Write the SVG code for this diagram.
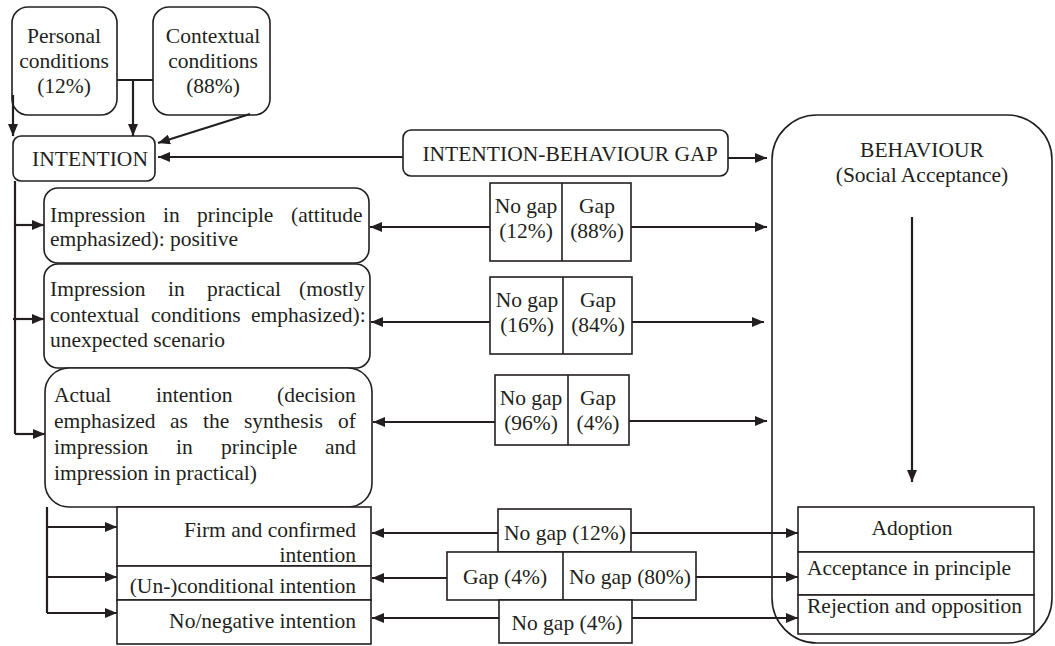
<svg xmlns="http://www.w3.org/2000/svg" width="1055" height="646" viewBox="0 0 1055 646" font-family="'Liberation Serif', 'Times New Roman', serif">
<defs>
<style>
text{font-family:'Liberation Serif','Times New Roman',serif;font-size:21.5px;fill:#231f20}
.c{text-anchor:middle}
.e{text-anchor:end}
.box{fill:#fff;stroke:#231f20;stroke-width:1.6}
.ln{fill:none;stroke:#231f20;stroke-width:2.2}
.arr{fill:none;stroke:#231f20;stroke-width:2.2;marker-end:url(#ah)}
</style>
<marker id="ah" viewBox="0 0 12 10" refX="12" refY="5" markerWidth="12" markerHeight="10" markerUnits="userSpaceOnUse" orient="auto"><path d="M0,0 L12,5 L0,10 z" fill="#231f20"/></marker>
</defs>
<rect width="1055" height="646" fill="#fff"/>

<g id="behaviour">
<rect class="box" x="772" y="115" width="280" height="528" rx="45"/>
<text class="c" x="922" y="157">BEHAVIOUR</text>
<text class="c" x="922" y="182">(Social Acceptance)</text>
</g>

<g id="personal">
<rect class="box" x="12" y="7" width="105" height="108" rx="16"/>
<text class="c" x="64" y="43">Personal</text>
<text class="c" x="64" y="68">conditions</text>
<text class="c" x="64" y="93">(12%)</text>
</g>
<g id="contextual">
<rect class="box" x="153" y="7" width="117" height="108" rx="16"/>
<text class="c" x="213" y="43">Contextual</text>
<text class="c" x="213" y="68">conditions</text>
<text class="c" x="213" y="93">(88%)</text>
</g>
<g id="intention">
<rect class="box" x="13" y="136" width="142" height="45" rx="8"/>
<text class="c" x="90" y="166">INTENTION</text>
</g>
<g id="ib-gap">
<rect class="box" x="403" y="130" width="325" height="46" rx="8"/>
<text class="c" x="570" y="161">INTENTION-BEHAVIOUR GAP</text>
</g>

<g id="imp-principle">
<rect class="box" x="44" y="188" width="325" height="75" rx="14"/>
<text y="222"><tspan x="50">Impression</tspan><tspan x="163">in</tspan><tspan x="197">principle</tspan><tspan x="291">(attitude</tspan></text>
<text x="50" y="246">emphasized): positive</text>
</g>
<g id="imp-practical">
<rect class="box" x="44" y="264" width="326" height="104" rx="14"/>
<text y="296"><tspan x="50">Impression</tspan><tspan x="168">in</tspan><tspan x="207">practical</tspan><tspan x="299">(mostly</tspan></text>
<text y="322"><tspan x="50">contextual</tspan><tspan x="151">conditions</tspan><tspan x="251">emphasized):</tspan></text>
<text x="50" y="347">unexpected scenario</text>
</g>
<g id="actual">
<rect class="box" x="45" y="368" width="327" height="139" rx="24"/>
<text y="402"><tspan x="54">Actual</tspan><tspan x="156">intention</tspan><tspan x="277">(decision</tspan></text>
<text y="428"><tspan x="54">emphasized</tspan><tspan x="170">as</tspan><tspan x="203">the</tspan><tspan x="244">synthesis</tspan><tspan x="338">of</tspan></text>
<text y="454"><tspan x="54">impression</tspan><tspan x="176">in</tspan><tspan x="221">principle</tspan><tspan x="325">and</tspan></text>
<text x="54" y="480">impression in practical)</text>
</g>

<g id="firm">
<rect class="box" x="117" y="507" width="254" height="59"/>
<text class="e" x="356" y="537">Firm and confirmed</text>
<text class="e" x="356" y="562">intention</text>
</g>
<g id="conditional">
<rect class="box" x="117" y="566" width="254" height="34"/>
<text class="e" x="356" y="593">(Un-)conditional intention</text>
</g>
<g id="negative">
<rect class="box" x="117" y="600" width="254" height="44"/>
<text class="e" x="356" y="628">No/negative intention</text>
</g>

<g id="gap-principle">
<rect class="box" x="490" y="183" width="141" height="78"/>
<line class="ln" x1="562" y1="183" x2="562" y2="261" style="stroke-width:1.6"/>
<text class="c" x="526" y="213">No gap</text>
<text class="c" x="526" y="238">(12%)</text>
<text class="c" x="597" y="213">Gap</text>
<text class="c" x="597" y="238">(88%)</text>
</g>
<g id="gap-practical">
<rect class="box" x="490" y="277" width="142" height="77"/>
<line class="ln" x1="563" y1="277" x2="563" y2="354" style="stroke-width:1.6"/>
<text class="c" x="527" y="307">No gap</text>
<text class="c" x="527" y="332">(16%)</text>
<text class="c" x="598" y="307">Gap</text>
<text class="c" x="598" y="332">(84%)</text>
</g>
<g id="gap-actual">
<rect class="box" x="495" y="375" width="134" height="70"/>
<line class="ln" x1="568" y1="375" x2="568" y2="445" style="stroke-width:1.6"/>
<text class="c" x="531" y="405">No gap</text>
<text class="c" x="531" y="430">(96%)</text>
<text class="c" x="598" y="405">Gap</text>
<text class="c" x="598" y="430">(4%)</text>
</g>

<g id="gap-firm">
<rect class="box" x="498" y="509" width="133" height="43"/>
<text class="c" x="565" y="540">No gap (12%)</text>
</g>
<g id="gap-conditional">
<rect class="box" x="447" y="552" width="249" height="48"/>
<line class="ln" x1="563" y1="552" x2="563" y2="600" style="stroke-width:1.6"/>
<text class="c" x="505" y="584">Gap (4%)</text>
<text class="c" x="630" y="584">No gap (80%)</text>
</g>
<g id="gap-negative">
<rect class="box" x="499" y="600" width="133" height="43"/>
<text class="c" x="567" y="630">No gap (4%)</text>
</g>

<g id="outcomes">
<rect class="box" x="798" y="507" width="236" height="45"/>
<text class="c" x="912" y="535">Adoption</text>
<rect class="box" x="798" y="552" width="236" height="43"/>
<text x="807" y="575">Acceptance in principle</text>
<rect class="box" x="798" y="595" width="236" height="39"/>
<text x="807" y="613">Rejection and opposition</text>
</g>

<g id="connectors">
<line class="arr" x1="13" y1="95" x2="13" y2="136"/>
<line class="ln" x1="117" y1="80" x2="153" y2="80"/>
<line class="arr" x1="133" y1="80" x2="133" y2="136"/>
<line class="arr" x1="250" y1="114" x2="158" y2="143"/>
<line class="arr" x1="403" y1="157" x2="158" y2="157"/>
<line class="arr" x1="728" y1="158" x2="767" y2="158"/>
<line class="arr" x1="912" y1="217" x2="912" y2="482"/>

<polyline class="ln" points="15,181 15,434"/>
<line class="arr" x1="15" y1="225" x2="44" y2="225"/>
<line class="arr" x1="13" y1="319" x2="44" y2="319"/>
<line class="arr" x1="15" y1="434" x2="45" y2="434"/>

<polyline class="ln" points="47,507 47,613"/>
<line class="arr" x1="47" y1="527" x2="117" y2="527"/>
<line class="arr" x1="47" y1="577" x2="117" y2="577"/>
<line class="arr" x1="47" y1="613" x2="117" y2="613"/>

<line class="arr" x1="490" y1="227" x2="370" y2="227"/>
<line class="arr" x1="490" y1="322" x2="371" y2="322"/>
<line class="arr" x1="495" y1="422" x2="373" y2="422"/>
<line class="arr" x1="631" y1="227" x2="767" y2="227"/>
<line class="arr" x1="632" y1="322" x2="764" y2="322"/>
<line class="arr" x1="629" y1="421" x2="767" y2="421"/>

<line class="arr" x1="498" y1="533" x2="372" y2="533"/>
<line class="arr" x1="447" y1="578" x2="372" y2="578"/>
<line class="arr" x1="499" y1="618" x2="372" y2="618"/>
<line class="arr" x1="631" y1="533" x2="798" y2="533"/>
<line class="arr" x1="696" y1="577" x2="798" y2="577"/>
<line class="arr" x1="632" y1="618" x2="798" y2="618"/>
</g>
</svg>
